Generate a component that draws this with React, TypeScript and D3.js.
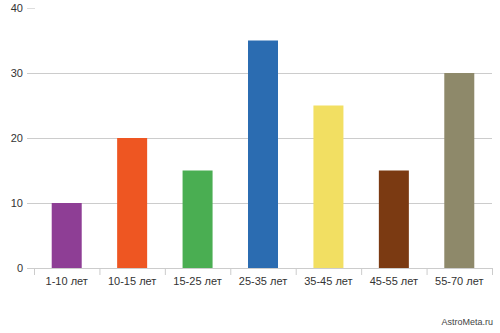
import React from "react";
import * as d3 from "d3";

const categories = ["1-10 лет", "10-15 лет", "15-25 лет", "25-35 лет", "35-45 лет", "45-55 лет", "55-70 лет"];
const values = [10, 20, 15, 35, 25, 15, 30];
const colors = ["#8e3e95", "#ee5622", "#4aae52", "#2b6cb1", "#f2df62", "#7b3a12", "#8e896a"];
const yTicks = [0, 10, 20, 30, 40];

export default function App() {
  const W = 500, H = 333;
  const x = d3.scaleBand<string>().domain(categories).range([34, 492]).paddingInner(0).paddingOuter(0);
  const y = d3.scaleLinear().domain([0, 40]).range([268, 8]);
  const barW = 30;
  const font = "Liberation Sans, Arial, sans-serif";
  return (
    <svg width={W} height={H} style={{ position: "absolute", left: 0, top: 0 }}>
      <rect width={W} height={H} fill="#fff" />
      {yTicks.map((t) => (
        <g key={t}>
          {t > 0 && t < 40 && (
            <line x1={27} x2={492} y1={y(t) + 0.5} y2={y(t) + 0.5} stroke="#cccccc" />
          )}
          {t === 40 && <line x1={27} x2={35} y1={y(t) + 0.5} y2={y(t) + 0.5} stroke="#dddddd" />}
          <text x={23} y={y(t)} dy="0.35em" textAnchor="end" fontSize={11} fill="#333" fontFamily={font}>
            {t}
          </text>
        </g>
      ))}
      {categories.map((c, i) => (
        <rect
          key={c}
          x={x(c)! + x.bandwidth() / 2 - barW / 2}
          y={y(values[i])}
          width={barW}
          height={y(0) - y(values[i])}
          fill={colors[i]}
        />
      ))}
      <line x1={27} x2={492} y1={268.5} y2={268.5} stroke="#cccccc" />
      {[...categories.map((c) => x(c)!), 492].map((px, i) => (
        <line key={i} x1={px + 0.5} x2={px + 0.5} y1={268} y2={275} stroke="#cccccc" />
      ))}
      {categories.map((c) => (
        <text key={c} x={x(c)! + x.bandwidth() / 2} y={285} textAnchor="middle" fontSize={11} fill="#333" fontFamily={font}>
          {c}
        </text>
      ))}
      <text x={493} y={325} textAnchor="end" fontSize={9} fill="#444" fontFamily={font}>
        AstroMeta.ru
      </text>
    </svg>
  );
}
